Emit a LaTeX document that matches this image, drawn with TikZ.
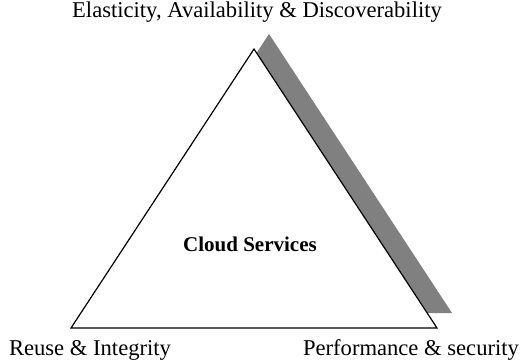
\documentclass[tikz,border=0pt]{standalone}
\usepackage{fontspec}
\setmainfont{Liberation Serif}
\begin{document}
\begin{tikzpicture}[x=1pt,y=-1pt]
\useasboundingbox (0,0) rectangle (527,363);
\coordinate (top) at (254,49);
\coordinate (left) at (71,328);
\coordinate (right) at (437,328);
\fill[gray] ([shift={(15,-15)}]top) -- ([shift={(15,-15)}]left) -- ([shift={(15,-15)}]right) -- cycle;
\draw[fill=white,line width=1.2pt] (top) -- (left) -- (right) -- cycle;
\node (elastic) at (257,12){\fontsize{22.6}{26}\selectfont Elasticity, Availability \& Discoverability};
\node (reuse) at (90,350){\fontsize{22.6}{26}\selectfont Reuse \& Integrity};
\node (perf) at (411,350){\fontsize{22.6}{26}\selectfont Performance \& security};
\node (cloud) at (250,244){\fontsize{21}{25}\selectfont\bfseries Cloud Services};
\end{tikzpicture}
\end{document}
